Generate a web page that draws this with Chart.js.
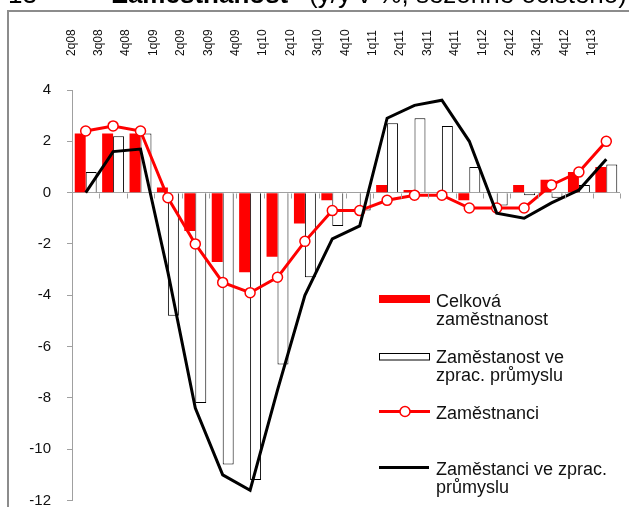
<!DOCTYPE html>
<html>
<head>
<meta charset="utf-8">
<script src="https://cdn.jsdelivr.net/npm/chart.js@4.4.1/dist/chart.umd.min.js"></script>
<style>
  html, body { margin: 0; padding: 0; background: #fff; }
  canvas { display: block; }
</style>
</head>
<body>
<canvas id="chart" width="629" height="507"></canvas>
<script>
// data (y/y, %)
const quarters = ['2q08', '3q08', '4q08', '1q09', '2q09', '3q09', '4q09', '1q10', '2q10', '3q10',
                  '4q10', '1q11', '2q11', '3q11', '4q11', '1q12', '2q12', '3q12', '4q12', '1q13'];
const celkovaZam = [2.3, 2.3, 2.3, 0.2, -1.5, -2.7, -3.1, -2.5, -1.2, -0.3, 0.0, 0.3, 0.1, 0.0, -0.3, 0.0, 0.3, 0.5, 0.8, 1.0];
const zamZprac = [0.8, 2.2, 2.3, -4.8, -8.2, -10.6, -11.2, -6.7, -3.3, -1.3, -0.7, 2.7, 2.9, 2.6, 1.0, -0.5, -0.1, -0.2, 0.3, 1.1];
const zamestnanci = [2.4, 2.6, 2.4, -0.2, -2.0, -3.5, -3.9, -3.3, -1.9, -0.7, -0.7, -0.3, -0.1, -0.1, -0.6, -0.6, -0.6, 0.3, 0.8, 2.0];
const zamestnanciZprac = [0.0, 1.6, 1.7, -3.1, -8.4, -11.0, -11.6, -7.7, -4.0, -1.8, -1.3, 2.9, 3.4, 3.6, 2.0, -0.8, -1.0, -0.4, 0.1, 1.3];
const yMin = -12, yMax = 4, yStep = 2;

const FONT = '"Liberation Sans", Arial, sans-serif';
const GRAY = '#a0a0a0';

// frame, cut-off title, category ticks on the zero line, legend
const decorations = {
    id: 'decorations',
    beforeDraw(chart) {
        const ctx = chart.ctx;
        ctx.save();
        ctx.strokeStyle = '#8c8c8c';
        ctx.lineWidth = 2;
        ctx.strokeRect(8, 11, 700, 600);
        ctx.fillStyle = '#000';
        ctx.textBaseline = 'alphabetic';
        ctx.textAlign = 'left';
        ctx.font = '26px ' + FONT;
        ctx.fillText('13', 8, 3);
        ctx.font = 'bold 26px ' + FONT;
        ctx.fillText('Zaměstnanost', 112, 3);
        ctx.font = '26px ' + FONT;
        ctx.fillText('(y/y v %, sezónně očištěno)', 309, 3);
        ctx.restore();
    },
    afterDatasetsDraw(chart) {
        const ctx = chart.ctx;
        const x = chart.scales.x, y = chart.scales.y;
        const y0 = Math.round(y.getPixelForValue(0)) + 0.5;
        const step = (x.right - x.left) / quarters.length;
        ctx.save();
        ctx.strokeStyle = GRAY;
        ctx.lineWidth = 1;
        ctx.beginPath();
        for (let i = 0; i <= quarters.length; i++) {
            const px = Math.round(x.left + i * step) + 0.5;
            ctx.moveTo(px, y0);
            ctx.lineTo(px, y0 + 5);
        }
        ctx.stroke();
        ctx.restore();
    },
    afterDraw(chart) {
        const ctx = chart.ctx;
        ctx.save();
        ctx.font = '18px ' + FONT;
        ctx.fillStyle = '#111';
        ctx.textAlign = 'left';
        ctx.textBaseline = 'alphabetic';

        // Celková zaměstnanost
        ctx.fillStyle = '#ff0000';
        ctx.fillRect(379, 295, 51, 8);
        ctx.fillStyle = '#111';
        ctx.fillText('Celková', 436, 306.5);
        ctx.fillText('zaměstnanost', 436, 325);

        // Zaměstanost ve zprac. průmyslu
        ctx.fillStyle = '#fff';
        ctx.fillRect(379.5, 353.5, 50, 6.5);
        ctx.strokeStyle = '#000';
        ctx.lineWidth = 1;
        ctx.strokeRect(379.5, 353.5, 50, 6.5);
        ctx.fillStyle = '#111';
        ctx.fillText('Zaměstanost ve', 436, 362.5);
        ctx.fillText('zprac. průmyslu', 436, 381);

        // Zaměstnanci
        ctx.strokeStyle = '#ff0000';
        ctx.lineWidth = 3;
        ctx.beginPath();
        ctx.moveTo(379, 411.5);
        ctx.lineTo(430, 411.5);
        ctx.stroke();
        ctx.beginPath();
        ctx.arc(405, 411.5, 5, 0, Math.PI * 2);
        ctx.fillStyle = '#fff';
        ctx.fill();
        ctx.lineWidth = 1.5;
        ctx.stroke();
        ctx.fillStyle = '#111';
        ctx.fillText('Zaměstnanci', 436, 418.5);

        // Zaměstanci ve zprac. průmyslu
        ctx.strokeStyle = '#000';
        ctx.lineWidth = 3;
        ctx.beginPath();
        ctx.moveTo(379, 467.5);
        ctx.lineTo(429, 467.5);
        ctx.stroke();
        ctx.fillText('Zaměstanci ve zprac.', 436, 475);
        ctx.fillText('průmyslu', 436, 493);
        ctx.restore();
    }
};

const ctx = document.getElementById('chart').getContext('2d');
new Chart(ctx, {
    type: 'bar',
    data: {
        labels: quarters,
        datasets: [
            {
                type: 'line',
                label: 'Zaměstanci ve zprac. průmyslu',
                data: zamestnanciZprac,
                borderColor: '#000',
                borderWidth: 3,
                pointRadius: 0,
                tension: 0,
                order: 0
            },
            {
                type: 'line',
                label: 'Zaměstnanci',
                data: zamestnanci,
                borderColor: '#ff0000',
                borderWidth: 3,
                pointRadius: 5,
                pointBackgroundColor: '#fff',
                pointBorderColor: '#ff0000',
                pointBorderWidth: 1.5,
                tension: 0,
                order: 1
            },
            {
                label: 'Celková zaměstnanost',
                data: celkovaZam,
                backgroundColor: '#ff0000',
                borderWidth: 0,
                categoryPercentage: 0.8,
                barPercentage: 1.0,
                order: 2
            },
            {
                label: 'Zaměstanost ve zprac. průmyslu',
                data: zamZprac,
                backgroundColor: '#fff',
                borderColor: '#000',
                borderWidth: 1,
                categoryPercentage: 0.8,
                barPercentage: 1.0,
                order: 3
            }
        ]
    },
    options: {
        responsive: false,
        animation: false,
        layout: { padding: { top: 26, left: 0, right: 9, bottom: 4 } },
        plugins: {
            legend: { display: false },
            tooltip: { enabled: false },
            title: { display: false }
        },
        scales: {
            x: {
                position: 'top',
                offset: true,
                grid: { display: false, drawTicks: false },
                border: { display: false },
                ticks: {
                    autoSkip: false,
                    minRotation: 90,
                    maxRotation: 90,
                    padding: 34,
                    color: '#111',
                    font: { family: FONT, size: 12 }
                },
                afterFit(scale) {
                    scale.height = 64;
                    scale.paddingLeft = 0;
                    scale.paddingRight = 0;
                }
            },
            y: {
                min: yMin,
                max: yMax,
                ticks: {
                    stepSize: yStep,
                    padding: 16,
                    color: '#111',
                    font: { family: FONT, size: 15 }
                },
                grid: {
                    color: (c) => (c.tick && c.tick.value === 0 ? GRAY : 'rgba(0,0,0,0)'),
                    tickColor: GRAY,
                    tickLength: 5,
                    lineWidth: 1
                },
                border: { display: true, color: GRAY, width: 1 },
                afterFit(scale) {
                    scale.width = 72;
                    scale.paddingTop = 0;
                    scale.paddingBottom = 0;
                }
            }
        }
    },
    plugins: [decorations]
});
</script>
</body>
</html>
